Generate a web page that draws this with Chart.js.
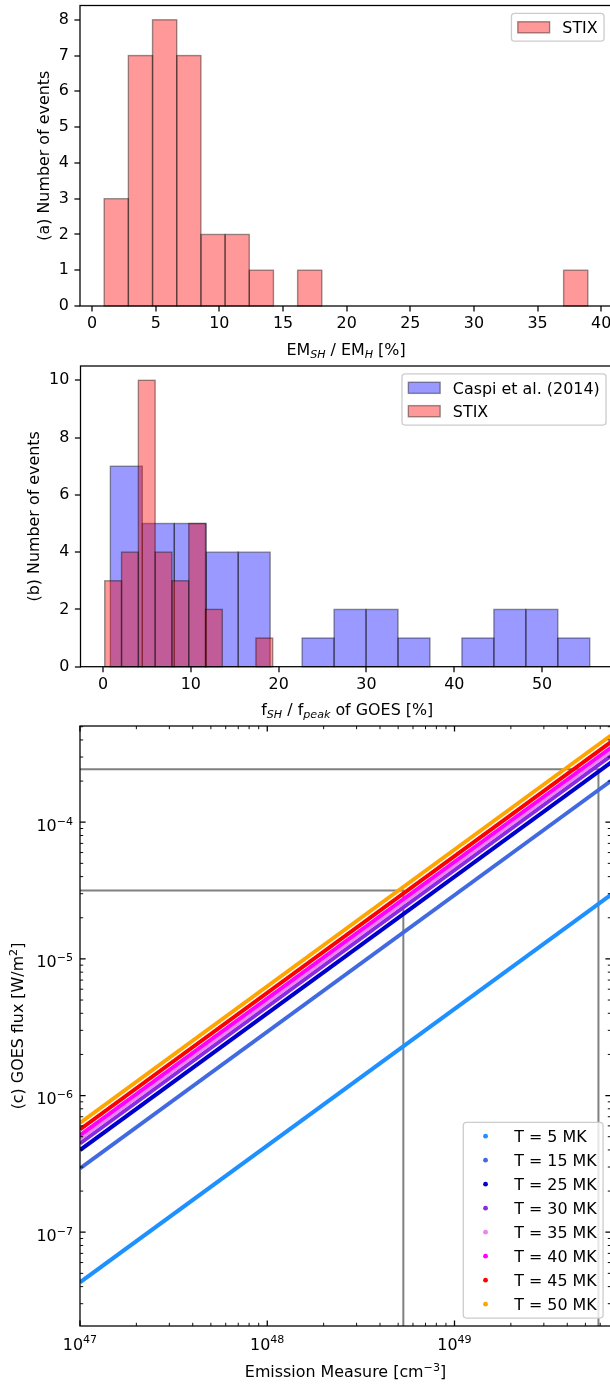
<!DOCTYPE html>
<html>
<head>
<meta charset="utf-8">
<script src="https://cdn.jsdelivr.net/npm/chart.js@4.4.1/dist/chart.umd.min.js"></script>
<style>
  html, body { margin: 0; padding: 0; background: #fff; }
  #fig { position: relative; width: 610px; height: 1385px; overflow: hidden; background: #fff; }
  #fig canvas { position: absolute; left: 0; }
</style>
</head>
<body>
<div id="fig">
  <canvas id="panelA" width="612" height="364" style="top:0px;width:612px;height:364px"></canvas>
  <canvas id="panelB" width="614" height="364" style="top:360px;width:614px;height:364px"></canvas>
  <canvas id="panelC" width="612" height="669" style="top:716px;width:612px;height:669px"></canvas>
</div>
<script>
// ---------------- data ----------------
// (a) EM_SH / EM_H histogram (STIX)
const emRatioBinEdges = [0.95, 2.85, 4.75, 6.65, 8.55, 10.45, 12.35, 14.25, 16.15, 18.05, 19.95,
                         21.85, 23.75, 25.65, 27.55, 29.45, 31.35, 33.25, 35.15, 37.05, 38.95];
const emRatioStixCounts = [3, 7, 8, 7, 2, 2, 1, 0, 1, 0, 0, 0, 0, 0, 0, 0, 0, 0, 0, 1];
const emRatioTicks = [0, 5, 10, 15, 20, 25, 30, 35, 40];
const eventTicksA = [0, 1, 2, 3, 4, 5, 6, 7, 8];

// (b) f_SH / f_peak histograms (STIX and Caspi et al. 2014)
const fluxRatioStixBinEdges = [0.19, 2.10, 4.02, 5.93, 7.84, 9.76, 11.67, 13.58, 15.49, 17.41, 19.32];
const fluxRatioStixCounts = [3, 4, 10, 4, 3, 5, 2, 0, 0, 1];
const fluxRatioCaspiBinEdges = [0.83, 4.47, 8.11, 11.75, 15.39, 19.03, 22.67, 26.31, 29.95, 33.59,
                                37.23, 40.87, 44.51, 48.15, 51.79, 55.43];
const fluxRatioCaspiCounts = [7, 5, 5, 4, 4, 0, 1, 2, 2, 1, 0, 1, 2, 2, 1];
const fluxRatioTicks = [0, 10, 20, 30, 40, 50];
const eventTicksB = [0, 2, 4, 6, 8, 10];

// (c) GOES flux vs emission measure for several temperatures
const emissionMeasureEnds = [1e47, 1e50];
const flux5MK  = [4.30e-8, 4.30e-5];
const flux15MK = [2.93e-7, 2.93e-4];
const flux25MK = [3.99e-7, 3.99e-4];
const flux30MK = [4.47e-7, 4.47e-4];
const flux35MK = [4.85e-7, 4.85e-4];
const flux40MK = [5.13e-7, 5.13e-4];
const flux45MK = [5.65e-7, 5.65e-4];
const flux50MK = [6.31e-7, 6.31e-4];
const temperatureLabels = ['T = 5 MK', 'T = 15 MK', 'T = 25 MK', 'T = 30 MK',
                           'T = 35 MK', 'T = 40 MK', 'T = 45 MK', 'T = 50 MK'];
const referenceEM = [5.33e48, 5.87e49];
const referenceFlux = [3.17e-5, 2.44e-4];
const emDecadeTicks = [1e47, 1e48, 1e49];
const fluxDecadeTicks = [1e-7, 1e-6, 1e-5, 1e-4];

// ---------------- styling ----------------
const FONT = "'DejaVu Sans', 'Liberation Sans', sans-serif";
const FS = 15.9;        // base text size
const SCRIPT = 11.1;    // sub/superscript size
const TICK = 5.6, MINOR_TICK = 3.2;
const SPINE_W = 1.27;

const stixFill = 'rgba(255,0,0,0.4)';
const caspiFill = 'rgba(0,0,255,0.4)';
const barEdge = 'rgba(0,0,0,0.4)';
const seriesColors = ['#1e90ff', '#4169e1', '#0000cd', '#8a2be2', '#ee82ee', '#ff00ff', '#ff0000', '#ffa500'];
const fluxSeries = [flux5MK, flux15MK, flux25MK, flux30MK, flux35MK, flux40MK, flux45MK, flux50MK];

Chart.defaults.font.family = FONT;
Chart.defaults.font.size = FS;
Chart.defaults.color = '#000';

// ---------------- helpers ----------------
function histPoints(edges, counts) {
  return counts.map((c, i) => ({ x: (edges[i] + edges[i + 1]) / 2, y: c }));
}

// Draws a run of text pieces (with optional sub/superscripts) on one baseline.
function drawRich(ctx, parts, x, y, align, rotate) {
  ctx.save();
  ctx.translate(x, y);
  if (rotate) ctx.rotate(-Math.PI / 2);
  ctx.textBaseline = 'alphabetic';
  ctx.textAlign = 'left';
  ctx.fillStyle = '#000';
  const fonts = parts.map(p => (p.italic ? 'italic ' : '') + (p.size || FS) + 'px ' + FONT);
  let total = 0;
  const widths = parts.map((p, i) => { ctx.font = fonts[i]; const w = ctx.measureText(p.t).width; total += w; return w; });
  let cx = align === 'right' ? -total : align === 'left' ? 0 : -total / 2;
  parts.forEach((p, i) => { ctx.font = fonts[i]; ctx.fillText(p.t, cx, p.dy || 0); cx += widths[i]; });
  ctx.restore();
}

function roundRectPath(ctx, x, y, w, h, r) {
  ctx.beginPath();
  ctx.moveTo(x + r, y);
  ctx.lineTo(x + w - r, y); ctx.arcTo(x + w, y, x + w, y + r, r);
  ctx.lineTo(x + w, y + h - r); ctx.arcTo(x + w, y + h, x + w - r, y + h, r);
  ctx.lineTo(x + r, y + h); ctx.arcTo(x, y + h, x, y + h - r, r);
  ctx.lineTo(x, y + r); ctx.arcTo(x, y, x + r, y, r);
  ctx.closePath();
}

// Legend box in the usual "rounded frame, handle + label" layout.
function drawLegend(ctx, opt) {
  const pad = 6.36, handleLen = 31.8, handleGap = 12.72, rowH = 15;
  ctx.save();
  ctx.font = FS + 'px ' + FONT;
  const textW = Math.max(...opt.items.map(it => ctx.measureText(it.label).width));
  const w = 2 * pad + handleLen + handleGap + textW;
  const n = opt.items.length;
  const h = 2 * pad + n * rowH + (n - 1) * (opt.rowStep - rowH);
  const left = opt.right - w;
  const top = opt.top !== undefined ? opt.top : opt.bottom - h;
  roundRectPath(ctx, left, top, w, h, 3.2);
  ctx.fillStyle = 'rgba(255,255,255,0.8)';
  ctx.fill();
  ctx.strokeStyle = '#cccccc';
  ctx.lineWidth = 1.3;
  ctx.stroke();
  opt.items.forEach((it, i) => {
    const cy = top + pad + rowH / 2 + i * opt.rowStep;
    const hx = left + pad;
    if (it.kind === 'patch') {
      ctx.fillStyle = it.fill;
      ctx.fillRect(hx, cy - 5.57, handleLen, 11.13);
      ctx.strokeStyle = barEdge;
      ctx.lineWidth = 1.4;
      ctx.strokeRect(hx, cy - 5.57, handleLen, 11.13);
    } else {
      ctx.fillStyle = it.color;
      ctx.beginPath();
      ctx.arc(hx + handleLen / 2, cy, 2.4, 0, Math.PI * 2);
      ctx.fill();
    }
    ctx.fillStyle = '#000';
    ctx.textAlign = 'left';
    ctx.textBaseline = 'alphabetic';
    ctx.fillText(it.label, hx + handleLen + handleGap, cy + 5.8);
  });
  ctx.restore();
}

function drawFrame(chart) {
  const { ctx, chartArea: a } = chart;
  ctx.save();
  ctx.strokeStyle = '#000';
  ctx.lineWidth = SPINE_W;
  ctx.strokeRect(a.left, a.top, a.right - a.left, a.bottom - a.top);
  ctx.restore();
}

// Histogram bar outlines, drawn over each dataset's faces.
const histEdges = {
  id: 'histEdges',
  afterDatasetDraw(chart, args) {
    const { ctx, chartArea: a } = chart;
    ctx.save();
    ctx.beginPath();
    ctx.rect(a.left, a.top - 2, a.right - a.left + 4, a.bottom - a.top + 4);
    ctx.clip();
    ctx.strokeStyle = barEdge;
    ctx.lineWidth = 1.4;
    args.meta.data.forEach(bar => {
      const p = bar.getProps(['x', 'y', 'base', 'width'], true);
      if (Math.abs(p.base - p.y) < 0.5) return;
      ctx.strokeRect(p.x - p.width / 2, p.y, p.width, p.base - p.y);
    });
    ctx.restore();
  }
};

function fixedAxis(size, horizontal) {
  return function (scale) {
    if (horizontal) { scale.height = size; scale.paddingLeft = 0; scale.paddingRight = 0; }
    else { scale.width = size; scale.paddingTop = 0; scale.paddingBottom = 0; }
  };
}
function useTicks(values) {
  return function (scale) { scale.ticks = values.map(v => ({ value: v })); };
}

function linearX(min, max, ticks, height, extra) {
  return Object.assign({
    type: 'linear', position: 'bottom', min, max, bounds: 'data', offset: false,
    grid: { display: true, offset: false, drawOnChartArea: false, drawTicks: true,
            tickLength: TICK, tickWidth: SPINE_W, tickColor: '#000', lineWidth: 0 },
    border: { display: false },
    ticks: { padding: 2.7, autoSkip: false, maxRotation: 0, color: '#000', font: { size: FS } },
    afterBuildTicks: useTicks(ticks),
    afterFit: fixedAxis(height, true)
  }, extra || {});
}
function linearY(min, max, ticks, width) {
  return {
    type: 'linear', position: 'left', min, max, bounds: 'data',
    grid: { display: true, drawOnChartArea: false, drawTicks: true,
            tickLength: TICK, tickWidth: SPINE_W, tickColor: '#000', lineWidth: 0 },
    border: { display: false },
    ticks: { padding: 5.6, autoSkip: false, color: '#000', font: { size: FS } },
    afterBuildTicks: useTicks(ticks),
    afterFit: fixedAxis(width, false)
  };
}

const baseOptions = {
  responsive: false,
  maintainAspectRatio: false,
  devicePixelRatio: 1,
  animation: false,
  events: [],
  plugins: { legend: { display: false }, tooltip: { enabled: false } }
};

// ---------------- panel (a) ----------------
new Chart(document.getElementById('panelA'), {
  type: 'bar',
  data: {
    datasets: [{
      label: 'STIX',
      data: histPoints(emRatioBinEdges, emRatioStixCounts),
      backgroundColor: stixFill, borderWidth: 0,
      barPercentage: 1, categoryPercentage: 1, inflateAmount: 0
    }]
  },
  options: Object.assign({}, baseOptions, {
    layout: { padding: { left: 0, right: 0, top: 5.5, bottom: 0 } },
    scales: {
      x: linearX(-0.95, 40.85, emRatioTicks, 58),
      y: linearY(0, 8.4, eventTicksA, 80)
    }
  }),
  plugins: [histEdges, {
    id: 'decorA',
    afterDraw(chart) {
      const { ctx, chartArea: a } = chart;
      drawFrame(chart);
      drawLegend(ctx, {
        right: a.right - 7.95, top: a.top + 7.95, rowStep: 23.4,
        items: chart.data.datasets.map(d => ({ kind: 'patch', label: d.label, fill: d.backgroundColor }))
      });
      drawRich(ctx, [
        { t: 'EM' }, { t: 'SH', size: SCRIPT, italic: true, dy: 3.3 },
        { t: ' / EM' }, { t: 'H', size: SCRIPT, italic: true, dy: 3.3 }, { t: ' [%]' }
      ], (a.left + a.right) / 2, a.bottom + 49, 'center', false);
      drawRich(ctx, [{ t: '(a) Number of events' }], 48.5, (a.top + a.bottom) / 2, 'center', true);
    }
  }]
});

// ---------------- panel (b) ----------------
new Chart(document.getElementById('panelB'), {
  type: 'bar',
  data: {
    datasets: [{
      label: 'Caspi et al. (2014)',
      data: histPoints(fluxRatioCaspiBinEdges, fluxRatioCaspiCounts),
      backgroundColor: caspiFill, borderWidth: 0, xAxisID: 'x', order: 1, grouped: false,
      barPercentage: 1, categoryPercentage: 1, inflateAmount: 0
    }, {
      label: 'STIX',
      data: histPoints(fluxRatioStixBinEdges, fluxRatioStixCounts),
      backgroundColor: stixFill, borderWidth: 0, xAxisID: 'x2', order: 0, grouped: false,
      barPercentage: 1, categoryPercentage: 1, inflateAmount: 0
    }]
  },
  options: Object.assign({}, baseOptions, {
    layout: { padding: { left: 0, right: 0, top: 6, bottom: 0 } },
    scales: {
      x: linearX(-2.57, 58.19, fluxRatioTicks, 57.3),
      x2: linearX(-2.57, 58.19, fluxRatioTicks, 0, { display: false }),
      y: linearY(0, 10.5, eventTicksB, 80.5)
    }
  }),
  plugins: [histEdges, {
    id: 'decorB',
    afterDraw(chart) {
      const { ctx, chartArea: a } = chart;
      drawFrame(chart);
      drawLegend(ctx, {
        right: a.right - 7.95, top: a.top + 7.95, rowStep: 23.4,
        items: chart.data.datasets.map(d => ({ kind: 'patch', label: d.label, fill: d.backgroundColor }))
      });
      drawRich(ctx, [
        { t: 'f' }, { t: 'SH', size: SCRIPT, italic: true, dy: 3.3 },
        { t: ' / f' }, { t: 'peak', size: SCRIPT, italic: true, dy: 3.3 }, { t: ' of GOES [%]' }
      ], (a.left + a.right) / 2, a.bottom + 48.3, 'center', false);
      drawRich(ctx, [{ t: '(b) Number of events' }], 38.5, (a.top + a.bottom) / 2, 'center', true);
    }
  }]
});

// ---------------- panel (c) ----------------
const EM_MIN = 1e47, EM_MAX = 6.85e49;
const FLUX_MIN = 2.06e-8, FLUX_MAX = 5.06e-4;

const referenceSets = referenceEM.map((em, i) => ({
  label: '', reference: true,
  data: [{ x: EM_MIN, y: referenceFlux[i] }, { x: em, y: referenceFlux[i] }, { x: em, y: FLUX_MIN }],
  borderColor: '#808080', backgroundColor: '#808080', borderWidth: 2,
  pointRadius: 0, order: 20, clip: 0, tension: 0
}));
const temperatureSets = fluxSeries.map((flux, i) => ({
  label: temperatureLabels[i],
  data: emissionMeasureEnds.map((em, j) => ({ x: em, y: flux[j] })),
  borderColor: seriesColors[i], backgroundColor: seriesColors[i], borderWidth: 4,
  pointRadius: 0, order: fluxSeries.length - i, clip: 0, tension: 0
}));

function logTicks(min, max) {
  const out = [];
  for (let e = Math.floor(Math.log10(min)); e <= Math.ceil(Math.log10(max)); e++) {
    for (let k = 1; k <= 9; k++) {
      const v = k * Math.pow(10, e);
      if (v >= min * 0.9999 && v <= max * 1.0001) out.push({ v, major: k === 1 });
    }
  }
  return out;
}
function expText(v) {
  return String(Math.round(Math.log10(v))).replace('-', '\u2212');
}

new Chart(document.getElementById('panelC'), {
  type: 'line',
  data: { datasets: temperatureSets.concat(referenceSets) },
  options: Object.assign({}, baseOptions, {
    layout: { padding: { left: 80, right: 1, top: 10, bottom: 59 } },
    scales: {
      x: { type: 'logarithmic', min: EM_MIN, max: EM_MAX, display: false },
      y: { type: 'logarithmic', min: FLUX_MIN, max: FLUX_MAX, display: false }
    }
  }),
  plugins: [{
    id: 'decorC',
    afterDraw(chart) {
      const { ctx, chartArea: a } = chart;
      const xs = chart.scales.x, ys = chart.scales.y;
      drawFrame(chart);
      // inward ticks on all four sides
      ctx.save();
      ctx.strokeStyle = '#000';
      logTicks(EM_MIN, EM_MAX).forEach(t => {
        const px = xs.getPixelForValue(t.v);
        const L = t.major ? TICK : MINOR_TICK;
        ctx.lineWidth = t.major ? SPINE_W : 0.95;
        ctx.beginPath();
        ctx.moveTo(px, a.bottom); ctx.lineTo(px, a.bottom - L);
        ctx.moveTo(px, a.top); ctx.lineTo(px, a.top + L);
        ctx.stroke();
      });
      logTicks(FLUX_MIN, FLUX_MAX).forEach(t => {
        const py = ys.getPixelForValue(t.v);
        const L = t.major ? TICK : MINOR_TICK;
        ctx.lineWidth = t.major ? SPINE_W : 0.95;
        ctx.beginPath();
        ctx.moveTo(a.left, py); ctx.lineTo(a.left + L, py);
        ctx.moveTo(a.right, py); ctx.lineTo(a.right - L, py);
        ctx.stroke();
      });
      ctx.restore();
      // decade labels
      emDecadeTicks.forEach(v => {
        drawRich(ctx, [{ t: '10' }, { t: expText(v), size: SCRIPT, dy: -6.8 }],
          xs.getPixelForValue(v), a.bottom + 24, 'center', false);
      });
      fluxDecadeTicks.forEach(v => {
        drawRich(ctx, [{ t: '10' }, { t: expText(v), size: SCRIPT, dy: -6 }],
          a.left - 7, ys.getPixelForValue(v) + 8.5, 'right', false);
      });
      drawLegend(ctx, {
        right: a.right - 7.95, bottom: a.bottom - 7.95, rowStep: 24,
        items: chart.data.datasets.filter(d => !d.reference)
          .map(d => ({ kind: 'dot', label: d.label, color: d.borderColor }))
      });
      drawRich(ctx, [{ t: 'Emission Measure [cm' }, { t: '\u22123', size: SCRIPT, dy: -6.2 }, { t: ']' }],
        (a.left + a.right) / 2, a.bottom + 51, 'center', false);
      drawRich(ctx, [{ t: '(c) GOES flux [W/m' }, { t: '2', size: SCRIPT, dy: -6.2 }, { t: ']' }],
        23, (a.top + a.bottom) / 2, 'center', true);
    }
  }]
});
</script>
</body>
</html>
